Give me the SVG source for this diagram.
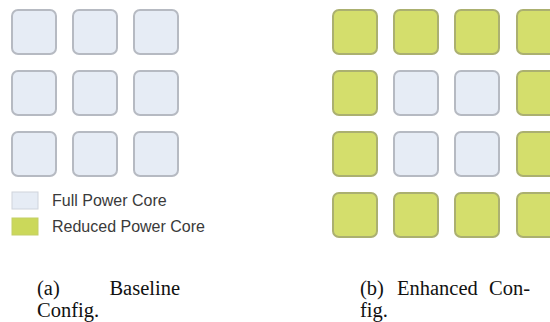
<svg xmlns="http://www.w3.org/2000/svg" width="550" height="322" viewBox="0 0 550 322">
<style>
.full{fill:#e6ecf5;stroke:#b6bac2;stroke-width:2}
.red{fill:#d4de6c;stroke:#abb070;stroke-width:2}
.leg{font-family:"Liberation Sans",Arial,sans-serif;font-size:16px;fill:#3a3a3a}
.cap{font-family:"Liberation Serif","Times New Roman",serif;font-size:20.5px;fill:#111}
</style>
<defs>
<rect id="sq" width="44" height="44" rx="6"/>
</defs>
<g id="baseline-grid">
<use href="#sq" class="full" x="12" y="10"/><use href="#sq" class="full" x="73" y="10"/><use href="#sq" class="full" x="134" y="10"/>
<use href="#sq" class="full" x="12" y="71"/><use href="#sq" class="full" x="73" y="71"/><use href="#sq" class="full" x="134" y="71"/>
<use href="#sq" class="full" x="12" y="132"/><use href="#sq" class="full" x="73" y="132"/><use href="#sq" class="full" x="134" y="132"/>
</g>
<g id="legend">
<rect x="12" y="192" width="26" height="17" fill="#e6ecf5" stroke="#cfd4dc" stroke-width="1"/>
<text class="leg" x="52" y="206">Full Power Core</text>
<rect x="12" y="218" width="26" height="17" fill="#cbd85a" stroke="#c4cf66" stroke-width="1"/>
<text class="leg" x="52" y="232">Reduced Power Core</text>
</g>
<g id="enhanced-grid">
<use href="#sq" class="red" x="333" y="10"/><use href="#sq" class="red" x="394" y="10"/><use href="#sq" class="red" x="455" y="10"/><use href="#sq" class="red" x="517" y="10"/>
<use href="#sq" class="red" x="333" y="71"/><use href="#sq" class="full" x="394" y="71"/><use href="#sq" class="full" x="455" y="71"/><use href="#sq" class="red" x="517" y="71"/>
<use href="#sq" class="red" x="333" y="132"/><use href="#sq" class="full" x="394" y="132"/><use href="#sq" class="full" x="455" y="132"/><use href="#sq" class="red" x="517" y="132"/>
<use href="#sq" class="red" x="333" y="193"/><use href="#sq" class="red" x="394" y="193"/><use href="#sq" class="red" x="455" y="193"/><use href="#sq" class="red" x="517" y="193"/>
</g>
<g id="captions">
<text class="cap" x="37" y="295">(a)</text>
<text class="cap" x="180" y="295" text-anchor="end">Baseline</text>
<text class="cap" x="37" y="317">Config.</text>
<text class="cap" x="360" y="295">(b)</text>
<text class="cap" x="397" y="295">Enhanced</text>
<text class="cap" x="530" y="295" text-anchor="end">Con-</text>
<text class="cap" x="360" y="317">fig.</text>
</g>
</svg>
